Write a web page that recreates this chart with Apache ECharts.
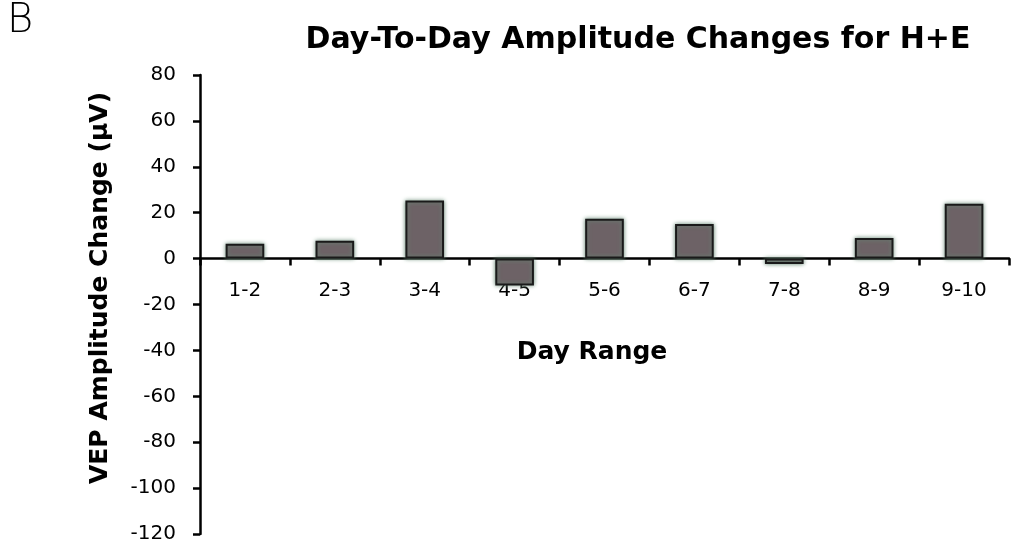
<!DOCTYPE html>
<html>
<head>
<meta charset="utf-8">
<script src="https://cdn.jsdelivr.net/npm/echarts@6/dist/echarts.min.js"></script>
<style>
html,body{margin:0;padding:0;background:#fff;}
#chart{width:1013px;height:550px;}
</style>
</head>
<body>
<div id="chart"></div>
<script>
const categories = ['1-2','2-3','3-4','4-5','5-6','6-7','7-8','8-9','9-10'];
const amplitudeChange = [6.5, 7.8, 25.3, -11.7, 17.4, 15.1, -2.3, 9.0, 23.9];
const yMin = -120, yMax = 80, yStep = 20;
const titleText = 'Day-To-Day Amplitude Changes for H+E';
const yAxisTitle = 'VEP Amplitude Change (\u03bcV)';
const xAxisTitle = 'Day Range';
const panelLabel = 'B';

const FONT = 'DejaVu Sans';
const GRID_TOP = 75, GRID_BOTTOM = 16, H = 550;
const plotH = H - GRID_TOP - GRID_BOTTOM;
// distance from the bottom of the grid to the zero line, so the category axis sits at zero
const zeroOffset = plotH * (0 - yMin) / (yMax - yMin);

const chart = echarts.init(document.getElementById('chart'), null, {renderer:'canvas'});
chart.setOption({
  animation: false,
  backgroundColor: '#ffffff',
  title: {
    text: titleText,
    left: 633, top: 20, textAlign: 'center',
    textStyle: {fontFamily: FONT, fontWeight: 'bold', fontSize: 30, color: '#000'}
  },
  graphic: [
    {type:'text', left: 7, top: 2, style:{text: panelLabel, font: '300 40px "DejaVu Sans"', fill:'#000'}},
    {type:'text', x: 100, y: 288, rotation: Math.PI/2,
     style:{text: yAxisTitle, font: 'bold 25px "DejaVu Sans"', fill:'#000', textAlign:'center', textVerticalAlign:'middle'}},
    {type:'text', x: 592, y: 352,
     style:{text: xAxisTitle, font: 'bold 25px "DejaVu Sans"', fill:'#000', textAlign:'center', textVerticalAlign:'middle'}}
  ],
  grid: {left: 200, right: 4, top: GRID_TOP, bottom: GRID_BOTTOM, containLabel: false, outerBoundsMode: 'none'},
  xAxis: {
    type: 'category',
    data: categories,
    offset: -zeroOffset,
    axisLine: {onZero: false, lineStyle: {color: '#000', width: 2.5}},
    axisTick: {show: true, inside: false, length: 7, lineStyle: {color:'#000', width: 2.5}},
    axisLabel: {margin: 22, fontFamily: FONT, fontSize: 20, color: '#000'},
    splitLine: {show: false}
  },
  yAxis: {
    type: 'value',
    min: yMin, max: yMax, interval: yStep,
    axisLine: {show: true, lineStyle: {color: '#000', width: 2.5}},
    axisTick: {show: true, inside: false, length: 7, lineStyle: {color:'#000', width: 2.5}},
    axisLabel: {margin: 24, fontFamily: FONT, fontSize: 20, color: '#000'},
    splitLine: {show: false}
  },
  series: [{
    type: 'bar',
    data: amplitudeChange,
    barWidth: '43%',
    itemStyle: {
      color: '#6d6266',
      borderColor: '#1a1a1a',
      borderWidth: 2,
      shadowBlur: 4,
      shadowColor: 'rgba(100,135,115,0.95)'
    }
  }]
});
</script>
</body>
</html>
